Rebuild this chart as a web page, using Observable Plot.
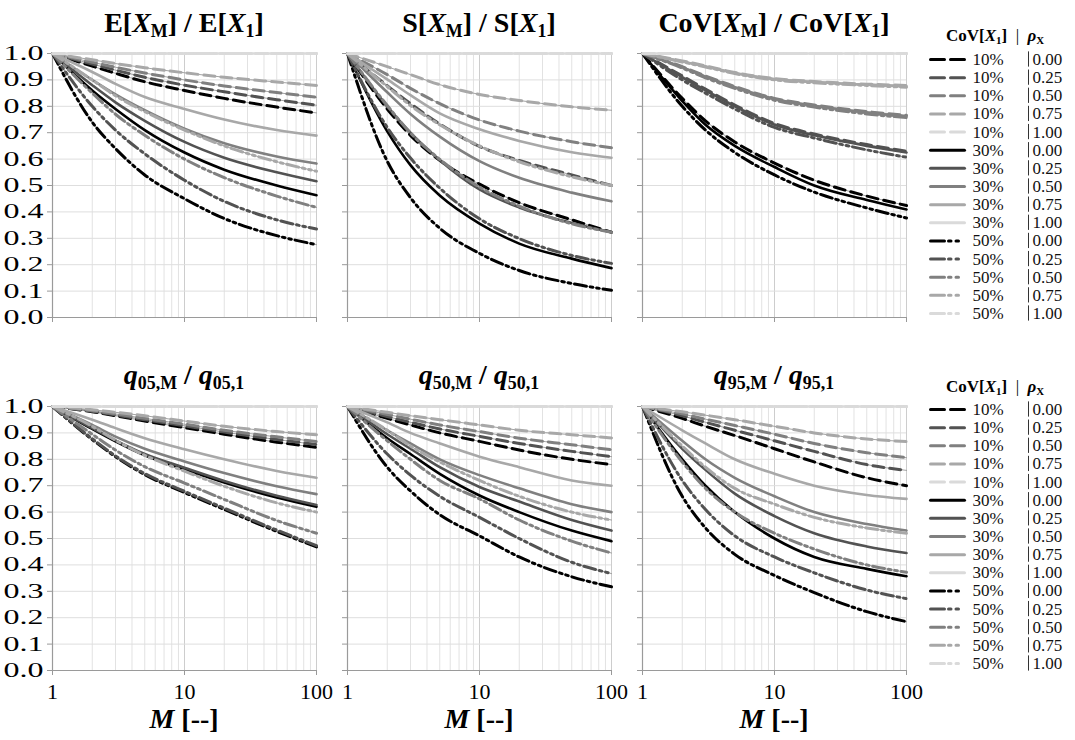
<!DOCTYPE html>
<html><head><meta charset="utf-8">
<script src="https://cdn.jsdelivr.net/npm/d3@7"></script>
<script src="https://cdn.jsdelivr.net/npm/@observablehq/plot@0.6"></script>
<style>
body{margin:0;background:#fff;}
#root{position:relative;width:1075px;height:740px;overflow:hidden;font-family:"Liberation Serif","Times New Roman",serif;color:#000;}
#root svg, #root svg text{font-family:"Liberation Serif","Times New Roman",serif !important;}
.title{position:absolute;font-weight:bold;font-size:28px;white-space:nowrap;transform:translateX(-50%);line-height:1;}
.title sub{font-size:0.64em;vertical-align:-0.28em;line-height:0;}
.xl{position:absolute;font-weight:bold;font-size:28px;white-space:nowrap;transform:translateX(-50%);line-height:24px;height:24px;}
.lh{position:absolute;font-size:17px;white-space:nowrap;line-height:1;}
.lh sub{font-size:0.64em;vertical-align:-0.28em;line-height:0;}
</style></head><body><div id="root"></div>
<script>
// ---------- data ----------
const M = [1, 2, 3, 5, 10, 20, 50, 100];
const RHO = ["0.00", "0.25", "0.50", "0.75", "1.00"];
const COV = ["10%", "30%", "50%"];
const RHO_COLORS = ["#000000", "#525252", "#808080", "#a8a8a8", "#dadada"];
const Y_TICKS = [0, 0.1, 0.2, 0.3, 0.4, 0.5, 0.6, 0.7, 0.8, 0.9, 1.0];
const X_TICKS = [1, 10, 100];
const X_GRID = [2, 3, 4, 5, 6, 7, 8, 9, 20, 30, 40, 50, 60, 70, 80, 90];

// E[X_M]/E[X_1]   (rows: rho 0.00, 0.25, 0.50, 0.75, 1.00)
const E_cov10 = [[1,0.952,0.925,0.893,0.86,0.83,0.797,0.775],[1,0.96,0.937,0.91,0.88,0.855,0.825,0.804],[1,0.967,0.948,0.926,0.9,0.877,0.852,0.834],[1,0.976,0.962,0.946,0.927,0.91,0.892,0.879],[1,1,1,1,1,1,1,1]];
const E_cov30 = [[1,0.86,0.79,0.71,0.625,0.56,0.5,0.463],[1,0.88,0.815,0.745,0.665,0.605,0.55,0.516],[1,0.9,0.845,0.785,0.715,0.66,0.61,0.583],[1,0.93,0.885,0.835,0.79,0.75,0.71,0.689],[1,1,1,1,1,1,1,1]];
const E_cov50 = [[1,0.74,0.64,0.54,0.45,0.375,0.31,0.276],[1,0.8,0.71,0.62,0.52,0.44,0.37,0.335],[1,0.85,0.77,0.69,0.6,0.53,0.46,0.417],[1,0.9,0.84,0.78,0.71,0.65,0.59,0.554],[1,1,1,1,1,1,1,1]];
// S[X_M]/S[X_1]
const S_cov10 = [[1,0.79,0.69,0.595,0.505,0.435,0.37,0.323],[1,0.878,0.81,0.733,0.648,0.595,0.54,0.5],[1,0.92,0.868,0.81,0.748,0.706,0.666,0.643],[1,0.95,0.92,0.882,0.845,0.822,0.798,0.785],[1,1,1,1,1,1,1,1]];
const S_cov30 = [[1,0.705,0.577,0.462,0.356,0.28,0.223,0.187],[1,0.8,0.7,0.596,0.485,0.417,0.358,0.323],[1,0.853,0.771,0.685,0.592,0.529,0.473,0.44],[1,0.902,0.842,0.773,0.713,0.669,0.626,0.605],[1,1,1,1,1,1,1,1]];
const S_cov50 = [[1,0.592,0.454,0.338,0.243,0.178,0.129,0.103],[1,0.72,0.604,0.49,0.374,0.299,0.235,0.205],[1,0.803,0.699,0.599,0.494,0.422,0.355,0.323],[1,0.875,0.803,0.73,0.65,0.59,0.533,0.5],[1,1,1,1,1,1,1,1]];
// CoV[X_M]/CoV[X_1]
const C_cov10 = [[1,0.83,0.745,0.665,0.585,0.52,0.46,0.424],[1,0.915,0.865,0.805,0.735,0.695,0.655,0.63],[1,0.95,0.915,0.875,0.83,0.805,0.78,0.766],[1,0.972,0.953,0.928,0.905,0.894,0.884,0.879],[1,1,1,1,1,1,1,1]];
const C_cov30 = [[1,0.82,0.73,0.65,0.57,0.5,0.445,0.409],[1,0.91,0.86,0.8,0.73,0.69,0.65,0.625],[1,0.948,0.912,0.872,0.828,0.802,0.776,0.762],[1,0.97,0.951,0.926,0.903,0.892,0.882,0.876],[1,1,1,1,1,1,1,1]];
const C_cov50 = [[1,0.8,0.71,0.625,0.54,0.475,0.415,0.377],[1,0.9,0.85,0.79,0.72,0.68,0.635,0.607],[1,0.945,0.908,0.868,0.823,0.797,0.771,0.757],[1,0.968,0.949,0.924,0.9,0.889,0.879,0.872],[1,1,1,1,1,1,1,1]];
// q05
const Q05_cov10 = [[1,0.98,0.965,0.945,0.92,0.895,0.865,0.845],[1,0.982,0.968,0.95,0.927,0.903,0.875,0.856],[1,0.984,0.972,0.955,0.933,0.91,0.885,0.867],[1,0.988,0.978,0.965,0.945,0.925,0.905,0.893],[1,1,1,1,1,1,1,1]];
const Q05_cov30 = [[1,0.915,0.868,0.815,0.762,0.712,0.655,0.62],[1,0.918,0.872,0.82,0.768,0.718,0.662,0.627],[1,0.93,0.886,0.84,0.792,0.748,0.698,0.668],[1,0.95,0.918,0.88,0.838,0.8,0.756,0.73],[1,1,1,1,1,1,1,1]];
const Q05_cov50 = [[1,0.875,0.81,0.742,0.674,0.61,0.527,0.468],[1,0.878,0.813,0.746,0.679,0.615,0.532,0.473],[1,0.895,0.835,0.772,0.71,0.648,0.568,0.52],[1,0.925,0.872,0.815,0.755,0.698,0.635,0.6],[1,1,1,1,1,1,1,1]];
// q50
const Q50_cov10 = [[1,0.955,0.93,0.9,0.868,0.835,0.8,0.78],[1,0.962,0.94,0.915,0.887,0.86,0.83,0.81],[1,0.97,0.952,0.93,0.905,0.88,0.855,0.836],[1,0.978,0.965,0.95,0.93,0.91,0.893,0.881],[1,1,1,1,1,1,1,1]];
const Q50_cov30 = [[1,0.88,0.82,0.745,0.663,0.6,0.53,0.49],[1,0.895,0.84,0.77,0.695,0.64,0.57,0.53],[1,0.91,0.86,0.8,0.74,0.69,0.63,0.6],[1,0.94,0.9,0.86,0.81,0.77,0.72,0.7],[1,1,1,1,1,1,1,1]];
const Q50_cov50 = [[1,0.77,0.68,0.59,0.51,0.43,0.355,0.317],[1,0.82,0.74,0.66,0.58,0.5,0.41,0.367],[1,0.87,0.8,0.72,0.65,0.57,0.49,0.445],[1,0.91,0.85,0.79,0.72,0.66,0.6,0.57],[1,1,1,1,1,1,1,1]];
// q95
const Q95_cov10 = [[1,0.955,0.925,0.89,0.84,0.79,0.73,0.7],[1,0.965,0.94,0.91,0.87,0.83,0.78,0.758],[1,0.972,0.952,0.928,0.895,0.86,0.825,0.806],[1,0.98,0.967,0.95,0.925,0.9,0.877,0.867],[1,1,1,1,1,1,1,1]];
const Q95_cov30 = [[1,0.8,0.7,0.6,0.5,0.43,0.385,0.357],[1,0.84,0.76,0.67,0.585,0.52,0.47,0.445],[1,0.87,0.8,0.73,0.66,0.6,0.555,0.53],[1,0.91,0.86,0.8,0.745,0.7,0.665,0.65],[1,1,1,1,1,1,1,1]];
const Q95_cov50 = [[1,0.66,0.54,0.44,0.36,0.295,0.223,0.185],[1,0.72,0.61,0.51,0.43,0.37,0.305,0.272],[1,0.79,0.69,0.6,0.52,0.46,0.4,0.372],[1,0.85,0.77,0.69,0.63,0.58,0.54,0.52],[1,1,1,1,1,1,1,1]];

// ---------- styling ----------
const DASH = {"10%": "11,6", "30%": null, "50%": "12,4,2.5,4,2.5,4"};
const WIDTH = {"10%": 3, "30%": 2.6, "50%": 3};
const LEGEND_DASH = {"10%": "14,6,14,40", "30%": null, "50%": "14,4,2.5,5,2.5,40"};
const FONT = "'Liberation Serif', 'Times New Roman', serif";

function flatten(cov, rows) {
  return rows.flatMap((vals, r) => vals.map((v, i) => ({M: M[i], v, rho: RHO[r], color: RHO_COLORS[r], cov})));
}

const root = document.getElementById("root");
const PW = 264, PH = 264;
const ML = 52, MR = 12, MT = 12, MB = 45;

function panel(sets, left, top, showY, showX) {
  const marks = [
    Plot.ruleX(X_GRID, {stroke: "#e2e2e2", strokeWidth: 1}),
    Plot.ruleX([10, 100], {stroke: "#cdcdcd", strokeWidth: 1}),
    Plot.ruleY(Y_TICKS.slice(1), {stroke: "#dedede", strokeWidth: 1}),
    Plot.axisY({ticks: Y_TICKS, tickSize: 5, tickPadding: 4, stroke: "#999", label: null,
      tickFormat: showY ? (d => d.toFixed(1)) : (() => ""), fontSize: 20}),
    Plot.axisX({ticks: X_TICKS, tickSize: 5, tickPadding: 8, stroke: "#999", label: null,
      tickFormat: showX ? (d => String(d)) : (() => ""), fontSize: 22}),
    Plot.ruleX([1], {stroke: "#9a9a9a", strokeWidth: 1.2}),
    Plot.ruleY([0], {stroke: "#9a9a9a", strokeWidth: 1.2})
  ];
  // thin simulation traces underneath
  COV.forEach((c, k) => {
    marks.push(Plot.line(flatten(c, sets[k]), {
      x: "M", y: "v", z: "rho", stroke: "#8c8c8c", strokeWidth: 0.8, curve: "monotone-x"
    }));
  });
  COV.forEach((c, k) => {
    marks.push(Plot.line(flatten(c, sets[k]), {
      x: "M", y: "v", z: "rho", stroke: "color",
      strokeWidth: WIDTH[c], strokeDasharray: DASH[c], curve: "monotone-x"
    }));
  });
  const svg = Plot.plot({
    width: PW + ML + MR, height: PH + MT + MB,
    marginLeft: ML, marginRight: MR, marginTop: MT, marginBottom: MB,
    style: {fontFamily: FONT, fontSize: "20px", color: "#000", background: "transparent", overflow: "visible"},
    x: {type: "log", domain: [1, 100], axis: null},
    y: {domain: [0, 1], axis: null},
    color: {type: "identity"},
    marks
  });
  if (showY) {
    svg.querySelectorAll('[aria-label="y-axis tick label"] text').forEach(t => {
      t.setAttribute("textLength", "40");
      t.setAttribute("lengthAdjust", "spacingAndGlyphs");
    });
  }
  svg.style.position = "absolute";
  svg.style.left = (left - ML) + "px";
  svg.style.top = (top - MT) + "px";
  root.appendChild(svg);
}

function addHTML(cls, html, x, y) {
  const d = document.createElement("div");
  d.className = cls;
  d.innerHTML = html;
  d.style.left = x + "px";
  d.style.top = y + "px";
  root.appendChild(d);
}

const COLS = [52, 347, 642];
const ROWS = [53, 406];
const TITLES = [
  "E[<i>X</i><sub>M</sub>] / E[<i>X</i><sub>1</sub>]",
  "S[<i>X</i><sub>M</sub>] / S[<i>X</i><sub>1</sub>]",
  "CoV[<i>X</i><sub>M</sub>] / CoV[<i>X</i><sub>1</sub>]",
  "<i>q</i><sub>05,M</sub> / <i>q</i><sub>05,1</sub>",
  "<i>q</i><sub>50,M</sub> / <i>q</i><sub>50,1</sub>",
  "<i>q</i><sub>95,M</sub> / <i>q</i><sub>95,1</sub>"
];
const SETS = [
  [E_cov10, E_cov30, E_cov50],
  [S_cov10, S_cov30, S_cov50],
  [C_cov10, C_cov30, C_cov50],
  [Q05_cov10, Q05_cov30, Q05_cov50],
  [Q50_cov10, Q50_cov30, Q50_cov50],
  [Q95_cov10, Q95_cov30, Q95_cov50]
];

for (let r = 0; r < 2; r++) {
  for (let c = 0; c < 3; c++) {
    const i = r * 3 + c;
    panel(SETS[i], COLS[c], ROWS[r], c === 0, r === 1);
    addHTML("title", TITLES[i], COLS[c] + PW / 2, r === 0 ? 9 : 361);
    if (r === 1) addHTML("xl", "<i>M</i> [--]", COLS[c] + PW / 2, 707);
  }
}

// ---------- legends ----------
const legendRows = COV.flatMap((c, ci) => RHO.map((rho, ri) => ({i: ci * 5 + ri, cov: c, rho, color: RHO_COLORS[ri]})));

function legend(top) {
  const marks = [];
  COV.forEach(c => {
    const seg = legendRows.filter(d => d.cov === c).flatMap(d => [{...d, x: 15}, {...d, x: 49}]);
    marks.push(Plot.line(seg, {x: "x", y: "i", z: "i", stroke: "color", strokeWidth: 3, strokeDasharray: LEGEND_DASH[c]}));
  });
  marks.push(Plot.text(legendRows, {x: () => 57, y: "i", text: "cov", textAnchor: "start", fill: "#111"}));
  marks.push(Plot.ruleX(legendRows, {x: () => 113, y1: d => d.i - 0.42, y2: d => d.i + 0.42, stroke: "#333", strokeWidth: 1}));
  marks.push(Plot.text(legendRows, {x: () => 117, y: "i", text: "rho", textAnchor: "start", fill: "#111"}));
  const svg = Plot.plot({
    width: 160, height: 282, margin: 0,
    style: {fontFamily: FONT, fontSize: "17px", color: "#000", background: "transparent"},
    x: {type: "linear", domain: [0, 160], range: [0, 160], axis: null},
    y: {type: "linear", domain: [0, 14], range: [14, 268], axis: null},
    color: {type: "identity"},
    marks
  });
  svg.style.position = "absolute";
  svg.style.left = "915px";
  svg.style.top = top + "px";
  root.appendChild(svg);
}
legend(45);
legend(395);
const LH = "<b>CoV[<i>X</i><sub>1</sub>]</b>&nbsp;&nbsp;|&nbsp;&nbsp;<b><i>ρ</i><sub>X</sub></b>";
addHTML("lh", LH, 946, 27);
addHTML("lh", LH, 946, 378);
</script></body></html>
